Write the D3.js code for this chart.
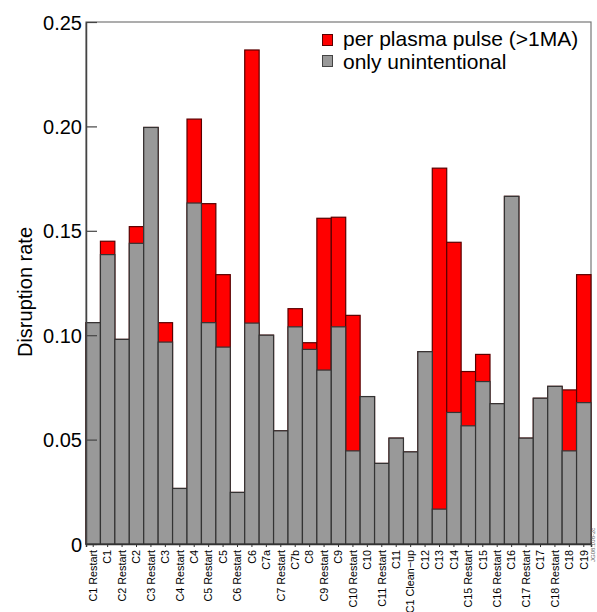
<!DOCTYPE html>
<html>
<head>
<meta charset="utf-8">
<script src="https://cdn.jsdelivr.net/npm/d3@7"></script>
<style>
  body { margin: 0; background: #fff; }
  text { font-family: "Liberation Sans", Arial, sans-serif; }
</style>
</head>
<body>
<div id="chart"></div>
<script>
var svgWidth = 597;
var svgHeight = 612;

var margin = { top: 22, right: 6, bottom: 68, left: 86 };
var width = svgWidth - margin.left - margin.right;
var height = svgHeight - margin.top - margin.bottom;

// campaigns along the x axis
var categories = ["C1 Restart", "C1", "C2 Restart", "C2", "C3 Restart", "C3",
    "C4 Restart", "C4", "C5 Restart", "C5", "C6 Restart", "C6", "C7a",
    "C7 Restart", "C7b", "C8", "C9 Restart", "C9", "C10 Restart", "C10",
    "C11 Restart", "C11", "C1 Clean\u2212up", "C12", "C13", "C14",
    "C15 Restart", "C15", "C16 Restart", "C16", "C17 Restart", "C17",
    "C18 Restart", "C18", "C19"];

// disruption rate per plasma pulse (>1MA), red
var perPulse = [0.106, 0.145, 0.098, 0.152, 0.1995, 0.106,
    0.0266, 0.2035, 0.163, 0.129, 0.0247, 0.2366, 0.100,
    0.0542, 0.1127, 0.0964, 0.156, 0.1565, 0.1095, 0.0706,
    0.0386, 0.0507, 0.0441, 0.0921, 0.180, 0.1445,
    0.0826, 0.0908, 0.0672, 0.1665, 0.0507, 0.0698,
    0.0755, 0.0738, 0.129];

// only unintentional disruptions, grey
var unintentional = [0.106, 0.1386, 0.098, 0.144, 0.1995, 0.0967,
    0.0266, 0.1633, 0.106, 0.0943, 0.0247, 0.1058, 0.100,
    0.0542, 0.104, 0.0932, 0.0833, 0.104, 0.0446, 0.0706,
    0.0386, 0.0507, 0.0441, 0.0921, 0.0167, 0.063,
    0.0566, 0.0778, 0.0672, 0.1665, 0.0507, 0.0698,
    0.0755, 0.0446, 0.0677];

var yTicks = [0, 0.05, 0.10, 0.15, 0.20, 0.25];
var yTickLabels = ["0", "0.05", "0.10", "0.15", "0.20", "0.25"];

var legendItems = [
    { label: "per plasma pulse (>1MA)", fill: "#ff0000", stroke: "#5a0000" },
    { label: "only unintentional", fill: "#999999", stroke: "#444444" }
];

var svg = d3.select("#chart")
    .append("svg")
    .attr("width", svgWidth)
    .attr("height", svgHeight);

var chartGroup = svg.append("g")
    .attr("transform", `translate(${margin.left}, ${margin.top})`);

var xBandScale = d3.scaleBand()
    .domain(categories)
    .range([0, width])
    .padding(0);

var yLinearScale = d3.scaleLinear()
    .domain([0, 0.25])
    .range([height, 0]);

// frame (top and right)
chartGroup.append("rect")
    .attr("x", 0)
    .attr("y", 0)
    .attr("width", width)
    .attr("height", height)
    .attr("fill", "none")
    .attr("stroke", "#777")
    .attr("stroke-width", 1.2);

var rows = categories.map((c, i) => ({
    category: c,
    pulse: perPulse[i],
    unint: unintentional[i]
}));

var barGroup = chartGroup.append("g");

barGroup.selectAll(".red")
    .data(rows)
    .enter()
    .append("rect")
    .attr("class", "red")
    .attr("x", d => xBandScale(d.category))
    .attr("y", d => yLinearScale(d.pulse))
    .attr("width", xBandScale.bandwidth())
    .attr("height", d => height - yLinearScale(d.pulse))
    .attr("fill", "#ff0000")
    .attr("stroke", "#5a0000")
    .attr("stroke-width", 1.2);

barGroup.selectAll(".grey")
    .data(rows)
    .enter()
    .append("rect")
    .attr("class", "grey")
    .attr("x", d => xBandScale(d.category))
    .attr("y", d => yLinearScale(d.unint))
    .attr("width", xBandScale.bandwidth())
    .attr("height", d => height - yLinearScale(d.unint))
    .attr("fill", "#999999")
    .attr("stroke", "#333333")
    .attr("stroke-width", 1.2);

// y axis, ticks pointing into the plot
var leftAxis = d3.axisLeft(yLinearScale)
    .tickValues(yTicks)
    .tickSizeInner(-11)
    .tickSizeOuter(0)
    .tickPadding(4)
    .tickFormat((d, i) => yTickLabels[i]);

var yAxis = chartGroup.append("g")
    .call(leftAxis);
yAxis.select(".domain").attr("stroke", "#444").attr("stroke-width", 1.5);
yAxis.selectAll(".tick line").attr("stroke", "#444").attr("stroke-width", 1.2);
yAxis.selectAll(".tick text")
    .attr("font-size", "20px")
    .attr("fill", "#000")
    .attr("dy", "0.35em");

// x axis
var bottomAxis = d3.axisBottom(xBandScale)
    .tickSize(3)
    .tickPadding(4);

var xAxis = chartGroup.append("g")
    .attr("transform", `translate(0, ${height})`)
    .call(bottomAxis);
xAxis.select(".domain").attr("stroke", "#333").attr("stroke-width", 1.5);
xAxis.selectAll(".tick line").attr("stroke", "#333");
xAxis.selectAll(".tick text")
    .attr("font-size", "10.8px")
    .attr("fill", "#000")
    .attr("transform", "rotate(-90)")
    .attr("x", -6)
    .attr("y", 0)
    .attr("dy", "0.35em")
    .style("text-anchor", "end");

// y label
svg.append("text")
    .attr("transform", "translate(32, 292) rotate(-90)")
    .attr("text-anchor", "middle")
    .attr("font-size", "20px")
    .attr("fill", "#000")
    .text("Disruption rate");

// legend
var legend = svg.append("g")
    .attr("transform", "translate(322, 34)");

legendItems.forEach((item, i) => {
    var g = legend.append("g")
        .attr("transform", `translate(0, ${i * 21})`);
    g.append("rect")
        .attr("x", 0.5)
        .attr("y", 0.5)
        .attr("width", 10)
        .attr("height", 11)
        .attr("fill", item.fill)
        .attr("stroke", item.stroke);
    g.append("text")
        .attr("x", 21)
        .attr("y", 12 + i * 1.5)
        .attr("font-size", "21px")
        .attr("fill", "#000")
        .text(item.label);
});

// figure code
svg.append("text")
    .attr("transform", "translate(595, 562) rotate(-90)")
    .attr("font-size", "6px")
    .attr("fill", "#666")
    .text("JG08.108-2c");
</script>
</body>
</html>
